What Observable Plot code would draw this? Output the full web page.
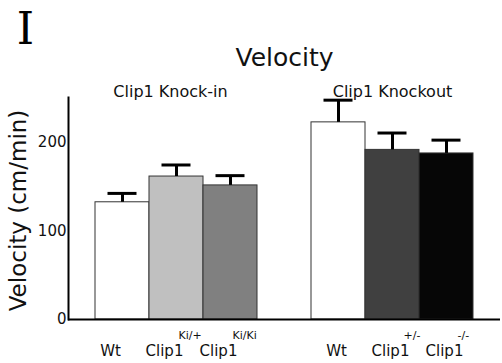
<!DOCTYPE html>
<html>
<head>
<meta charset="utf-8">
<script src="https://cdn.jsdelivr.net/npm/d3@7"></script>
<script src="https://cdn.jsdelivr.net/npm/@observablehq/plot@0.6"></script>
<style>
  html, body { margin: 0; padding: 0; background: #fff; }
  #chart svg { display: block; font-family: "DejaVu Sans", Verdana, sans-serif; }
</style>
</head>
<body>
<div id="chart"></div>
<script>
// Mean velocity per genotype, with error bars (cm/min)
const groups = ["Clip1 Knock-in", "Clip1 Knockout"];
const genotypes = ["KI Wt", "Clip1 Ki/+", "Clip1 Ki/Ki", "KO Wt", "Clip1 +/-", "Clip1 -/-"];
const groupIndex = [0, 0, 0, 1, 1, 1];
const baseLabels = ["Wt", "Clip1", "Clip1", "Wt", "Clip1", "Clip1"];
const supLabels = ["", "Ki/+", "Ki/Ki", "", "+/-", "-/-"];
const velocity = [132, 161, 151, 222, 191, 187];
const errors = [10, 13, 11, 25, 19, 15];
const yTicks = [0, 100, 200];

// Bar fill per genotype
const barColors = ["#ffffff", "#c0c0c0", "#808080", "#ffffff", "#404040", "#060606"];

const rows = genotypes.map((g, i) => ({
  genotype: g,
  group: groupIndex[i],
  base: baseLabels[i],
  sup: supLabels[i],
  value: velocity[i],
  err: errors[i]
}));

// An empty slot separates the two groups on the band scale
const xDomain = [...genotypes.slice(0, 3), "", ...genotypes.slice(3)];
const groupRows = groups.map((name, gi) => ({name, at: genotypes[gi * 3 + 1], gi}));

const textColor = "#111";

const chart = Plot.plot({
  width: 502,
  height: 363,
  marginLeft: 68,
  marginRight: 2,
  marginTop: 97,
  marginBottom: 44,
  style: {fontFamily: "'DejaVu Sans', Verdana, sans-serif", color: textColor, background: "#fff"},
  x: {type: "band", domain: xDomain, paddingInner: 0, paddingOuter: 0.5, axis: null},
  y: {domain: [0, 250], axis: null},
  color: {type: "ordinal", domain: genotypes, range: barColors},
  marks: [
    Plot.barY(rows, {x: "genotype", y: "value", fill: "genotype", stroke: "#333", strokeWidth: 1}),
    // error bar stems and caps
    Plot.ruleX(rows, {x: "genotype", y1: "value", y2: d => d.value + d.err, stroke: "#000", strokeWidth: 3}),
    Plot.tickY(rows, {x: "genotype", y: d => d.value + d.err, stroke: "#000", strokeWidth: 3, insetLeft: 12.5, insetRight: 12.5}),
    // axes
    Plot.ruleY([0], {stroke: "#000", strokeWidth: 2}),
    Plot.frame({anchor: "left", stroke: "#000", strokeWidth: 2}),
    Plot.axisY({ticks: yTicks, tickSize: 0, tickPadding: 2, fontSize: 15, label: null}),
    Plot.text(["Velocity (cm/min)"], {frameAnchor: "left", textAnchor: "middle", lineAnchor: "middle", rotate: -90, dx: -50, dy: 2, fontSize: 23, fill: textColor}),
    // genotype labels under the bars
    Plot.text(rows.filter(d => d.group === 0), {x: "genotype", text: "base", frameAnchor: "bottom", lineAnchor: "bottom", dy: 36, dx: -12, fontSize: 15, fill: textColor}),
    Plot.text(rows.filter(d => d.group === 1), {x: "genotype", text: "base", frameAnchor: "bottom", lineAnchor: "bottom", dy: 36, dx: -2, fontSize: 15, fill: textColor}),
    Plot.text(rows.filter(d => d.group === 0 && d.sup), {x: "genotype", text: "sup", frameAnchor: "bottom", lineAnchor: "bottom", textAnchor: "start", dy: 19, dx: 2, fontSize: 11, fill: textColor}),
    Plot.text(rows.filter(d => d.group === 1 && d.sup), {x: "genotype", text: "sup", frameAnchor: "bottom", lineAnchor: "bottom", textAnchor: "start", dy: 19, dx: 11, fontSize: 11, fill: textColor}),
    // group headings
    Plot.text(groupRows.filter(d => d.gi === 0), {x: "at", text: "name", frameAnchor: "top", lineAnchor: "bottom", dy: -1, dx: -6, fontSize: 16, fill: textColor}),
    Plot.text(groupRows.filter(d => d.gi === 1), {x: "at", text: "name", frameAnchor: "top", lineAnchor: "bottom", dy: -1, dx: 0, fontSize: 16, fill: textColor}),
    // title and panel letter
    Plot.text(["Velocity"], {frameAnchor: "top", lineAnchor: "bottom", dy: -32, fontSize: 25, fill: textColor}),
    Plot.text(["I"], {frameAnchor: "top-left", lineAnchor: "bottom", textAnchor: "middle", dx: -43, dy: -54, fontSize: 44, fontFamily: "'DejaVu Serif', serif", fill: "#000"})
  ]
});

document.getElementById("chart").append(chart);
</script>
</body>
</html>
